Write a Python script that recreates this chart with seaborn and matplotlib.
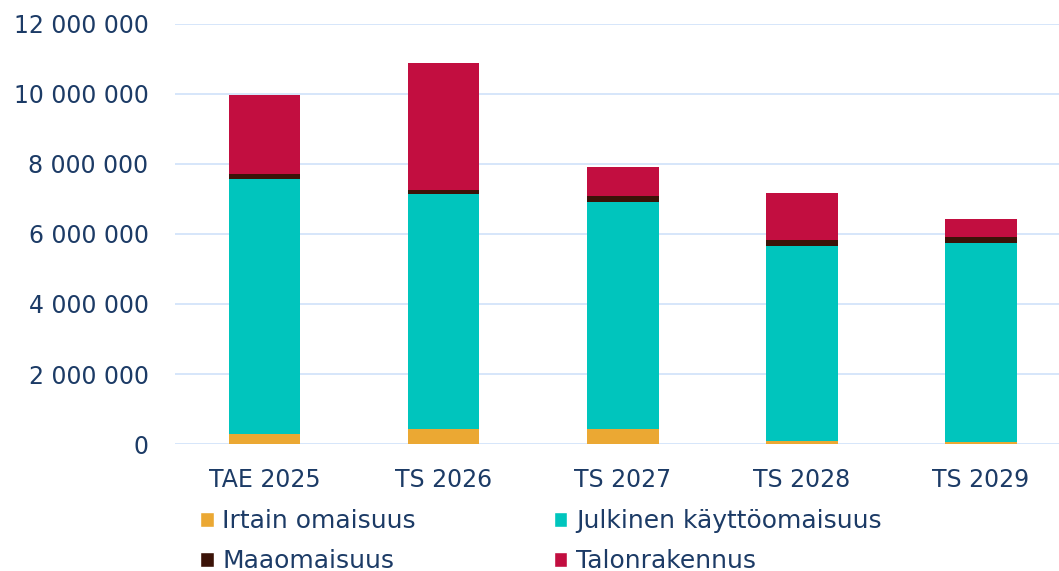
import matplotlib
matplotlib.use('Agg')
import matplotlib.pyplot as plt
import seaborn as sns
import pandas as pd
from matplotlib.patches import Patch
from matplotlib.ticker import FuncFormatter

years = ['TAE 2025', 'TS 2026', 'TS 2027', 'TS 2028', 'TS 2029']
irtain = [280000, 430000, 440000, 90000, 50000]
julkinen = [7280000, 6700000, 6480000, 5580000, 5700000]
maa = [160000, 120000, 170000, 170000, 160000]
talo = [2250000, 3630000, 830000, 1330000, 520000]

series = [
    ('Irtain omaisuus', irtain, '#EBA833'),
    ('Julkinen käyttöomaisuus', julkinen, '#00C5BD'),
    ('Maaomaisuus', maa, '#3B1308'),
    ('Talonrakennus', talo, '#C20E40'),
]

text_color = '#1C3B66'
grid_color = '#D3E4FA'

sns.set_theme(style='white')
plt.rcParams['font.family'] = ['DejaVu Sans']

fig = plt.figure(figsize=(10.59, 5.71), dpi=100)
ax = fig.add_axes([175 / 1059, 1 - 444 / 571, 884 / 1059, 420 / 571])

bottom = [0] * len(years)
for name, vals, color in series:
    df = pd.DataFrame({'year': years, 'value': vals})
    sns.barplot(data=df, x='year', y='value', color=color, width=0.4,
                bottom=bottom, ax=ax, saturation=1, linewidth=0, zorder=3)
    bottom = [b + v for b, v in zip(bottom, vals)]

ax.set_ylim(0, 12000000)
ax.set_yticks(range(0, 12000001, 2000000))
ax.set_xlim(-0.5, 4.436)
ax.yaxis.set_major_formatter(FuncFormatter(lambda v, p: f'{int(v):,}'.replace(',', ' ')))
ax.yaxis.grid(True, color=grid_color, linewidth=1.3, zorder=0)
ax.xaxis.grid(False)
ax.set_xlabel('')
ax.set_ylabel('')
for s in ax.spines.values():
    s.set_visible(False)
ax.tick_params(axis='y', length=0, pad=19, labelsize=17, labelcolor=text_color)
ax.tick_params(axis='x', length=0, pad=17, labelsize=17, labelcolor=text_color)

handles = [Patch(facecolor=c, label=n) for n, v, c in series]
order = [0, 2, 1, 3]
fig.legend([handles[i] for i in order], [series[i][0] for i in order],
           ncol=2, loc='center left', bbox_to_anchor=(200 / 1059, 1 - 541 / 571),
           frameon=False, fontsize=18, labelcolor=text_color,
           handlelength=0.55, handleheight=0.55, handletextpad=0.35,
           columnspacing=5.5, labelspacing=0.65, borderpad=0, borderaxespad=0)

fig.savefig('out.png', dpi=100)
